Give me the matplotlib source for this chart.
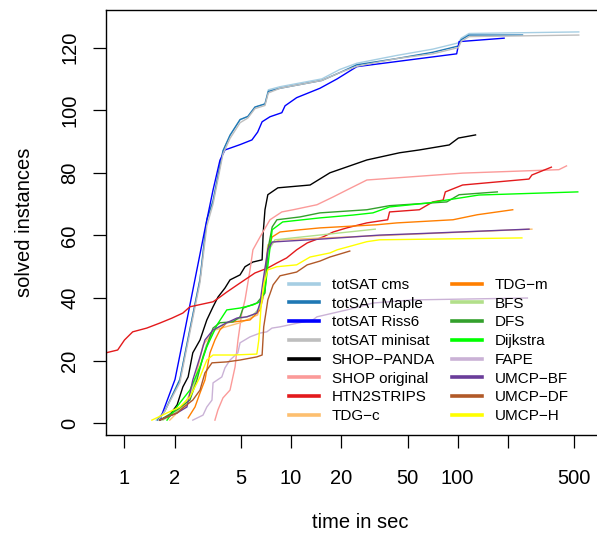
import matplotlib
matplotlib.use("Agg")
import matplotlib.pyplot as plt

plt.rcParams["font.family"] = ["Liberation Sans", "DejaVu Sans"]

# (time in sec, solved instances)
cms_t = [1.55, 1.75, 2.15, 2.47, 2.84, 3.12, 3.40, 3.90, 4.30, 4.94, 5.5, 6.07, 6.97, 7.3, 8.58, 15.3, 19.6, 24.8, 43.2, 70.9, 101, 105, 117, 533]
cms_n = [1, 4, 14, 30, 46, 65, 71, 87, 92, 97, 98, 101, 102, 106.5, 107.5, 110, 113, 115, 117.5, 119.5, 121.5, 123, 124.5, 125]
maple_t = [1.58, 1.75, 2.15, 2.47, 2.84, 3.12, 3.40, 3.90, 4.30, 4.94, 5.5, 6.07, 6.97, 7.3, 8.58, 15.3, 19.6, 24.8, 43.2, 70.9, 101, 105, 117, 245]
maple_n = [1, 4, 14, 30, 46, 65, 71, 87, 92, 97, 98, 101, 102, 106, 107, 109.5, 112, 114.5, 116.5, 118.5, 120.5, 122.5, 124, 124]
riss6_t = [1.63, 2.01, 2.31, 2.65, 3.04, 3.40, 3.74, 4.01, 4.94, 5.82, 6.3, 6.7, 7.47, 8.8, 9.2, 10.8, 14.9, 18.9, 24.8, 98.6, 102, 190]
riss6_n = [1, 14, 30, 46, 62, 74.5, 84, 87.3, 89, 90.5, 93, 96.3, 97.9, 99.2, 101.4, 104, 107, 110, 113.9, 118, 121.9, 123]
minisat_t = [1.6, 1.75, 2.15, 2.47, 2.84, 3.12, 3.40, 3.90, 4.30, 4.94, 5.5, 6.07, 6.97, 7.3, 8.58, 15.3, 19.6, 24.8, 43.2, 70.9, 101, 105, 117, 533]
minisat_n = [1, 4, 13, 29, 45, 63, 70, 86, 91, 96, 97.5, 100.5, 101.5, 105.5, 107, 109.5, 112, 114, 116.5, 118, 120, 122, 123.5, 124]
panda_t = [1.63, 1.87, 2.07, 2.24, 2.41, 2.57, 2.84, 3.12, 3.40, 3.64, 4.01, 4.30, 4.94, 5.29, 5.9, 6.7, 6.8, 6.97, 7.25, 8.33, 13.0, 17.1, 28.5, 44.8, 58.9, 89, 101, 128]
panda_n = [1, 2.6, 5.9, 11.6, 14.8, 22.5, 26.6, 33, 37.2, 40.3, 43.2, 45.8, 47.4, 50, 51.5, 52.2, 60.8, 68.2, 73, 75.2, 76.1, 80, 84.1, 86.4, 87.3, 88.9, 91.1, 92.1]
shop_t = [3.49, 3.64, 3.9, 4.3, 4.61, 4.8, 5.06, 5.29, 5.67, 5.9, 6.51, 7.47, 8.8, 10.3, 14.3, 17.9, 21.6, 28.5, 107, 405, 450]
shop_n = [1, 4.3, 8.1, 10.6, 18, 26.6, 35.2, 39.4, 49, 55.4, 59.5, 65, 67.5, 68.2, 69.8, 72.3, 74.5, 77.7, 79.9, 81, 82.2]
htn_t = [0.774, 0.91, 1.0, 1.12, 1.36, 1.63, 1.93, 2.24, 2.47, 3.40, 3.74, 4.11, 4.94, 6.07, 7.25, 8.22, 9.4, 10.8, 12.5, 15.5, 17.9, 21.6, 28.5, 38, 39, 58.9, 70.9, 81.8, 84.3, 107, 268, 279, 365]
htn_n = [22.5, 23.4, 26.6, 29.2, 30.4, 32, 33.6, 35.2, 37.2, 38.8, 40.3, 41.9, 44.8, 48, 49.6, 51.2, 52.8, 55.4, 57.6, 59.5, 61.1, 62.4, 64, 65, 67.5, 68.2, 70.7, 71.3, 73.9, 76.1, 78, 79.3, 81.8]
tdgc_t = [1.87, 2.31, 2.65, 2.96, 3.49, 4.94, 6.3, 6.8, 7.25, 8.58, 44.8, 279]
tdgc_n = [1, 5.9, 13.8, 25, 29.8, 32.1, 34.6, 42.6, 57, 58.6, 60.2, 62]
tdgm_t = [2.41, 2.65, 2.84, 3.04, 3.26, 3.49, 3.74, 4.11, 5.67, 6.51, 6.97, 7.25, 7.7, 8.58, 11.3, 14.9, 32.6, 43.2, 93.7, 131, 214]
tdgm_n = [1.7, 5.2, 9.7, 13.8, 22.5, 26.6, 29.8, 32.1, 33, 36.2, 42.6, 55.4, 59.5, 61.1, 61.8, 62.4, 63.4, 64, 65, 66.6, 68.2]
bfs_t = [1.7, 2.1, 2.5, 2.8, 3.1, 3.5, 4.1, 4.94, 5.9, 6.5, 6.9, 7.3, 8.0, 32]
bfs_n = [1, 4, 9, 17, 25, 30, 32, 33.5, 34.5, 37, 42, 55, 58.6, 62]
dfs_t = [1.63, 2.07, 2.47, 2.72, 2.96, 3.40, 3.74, 4.48, 4.94, 5.15, 6.23, 6.97, 7.25, 7.7, 8.22, 11.3, 14.9, 28.5, 39, 86, 102, 173]
dfs_n = [1, 4.3, 7.4, 13.8, 21.2, 30.4, 32.1, 32.4, 34, 36.8, 38.4, 41.6, 55.4, 62.7, 65, 65.9, 67.2, 68.2, 69.5, 70.7, 73, 73.9]
dijk_t = [1.8, 2.15, 2.47, 2.84, 3.12, 3.59, 4.11, 4.94, 5.9, 6.51, 6.97, 7.7, 8.9, 14.9, 23.5, 31, 39, 67.6, 86, 134, 526]
dijk_n = [1, 6.5, 10.6, 18, 24.4, 31.4, 36.2, 36.8, 37.8, 38.8, 42.6, 61.8, 64.3, 65.6, 66.5, 67.2, 69.1, 70.4, 71.3, 72.9, 73.9]
fape_t = [2.57, 2.96, 3.12, 3.35, 3.40, 3.84, 4.01, 4.30, 4.79, 4.94, 5.67, 6.51, 7.15, 7.68, 8.58, 13.5, 14.3, 21.6, 31, 53.7, 262]
fape_n = [1, 2.6, 5.2, 7.4, 12.9, 14.8, 17.7, 20.2, 22.5, 25.7, 27.6, 28.8, 29.2, 30.4, 30.8, 33, 34, 36.2, 38.4, 39.4, 40]
umbf_t = [1.63, 2.07, 2.37, 2.57, 2.84, 3.04, 3.40, 4.11, 4.73, 5.43, 6.23, 6.51, 6.8, 7.25, 7.7, 14.9, 34, 67.6, 268]
umbf_n = [1, 3.3, 5.2, 13.8, 21.2, 26.6, 29.8, 32.1, 33.6, 34, 35.2, 38.4, 45.8, 55.4, 57.9, 58.8, 60.1, 60.7, 62]
umdf_t = [1.63, 1.8, 2.07, 2.24, 2.57, 2.84, 3.04, 3.35, 4.11, 4.94, 6.23, 6.7, 6.85, 7.15, 7.25, 7.8, 8.58, 10.8, 12.5, 14.9, 17.1, 22.5]
umdf_n = [1, 2, 3.3, 4.9, 7.4, 10.6, 16.1, 19.3, 19.6, 20.2, 21.2, 21.8, 30.8, 37.2, 39.4, 44.2, 47.1, 48.3, 50.6, 51.8, 53.1, 55]
umh_t = [1.46, 1.8, 2.15, 2.47, 2.84, 3.12, 3.40, 4.48, 6.23, 6.4, 6.6, 6.85, 7.25, 8.22, 10.8, 13, 17.1, 18.9, 28.5, 34, 243]
umh_n = [1, 3.3, 5.2, 8.4, 14.8, 20.2, 21.8, 21.8, 22.1, 26.6, 37.2, 44.2, 49, 50, 50.6, 53.1, 54.4, 55.4, 58, 58.6, 59.2]

labels = ["totSAT cms", "totSAT Maple", "totSAT Riss6", "totSAT minisat",
          "SHOP\u2212PANDA", "SHOP original", "HTN2STRIPS", "TDG\u2212c",
          "TDG\u2212m", "BFS", "DFS", "Dijkstra",
          "FAPE", "UMCP\u2212BF", "UMCP\u2212DF", "UMCP\u2212H"]
colors = ["#A6CEE3", "#1F78B4", "#0000FF", "#BEBEBE",
          "#000000", "#FB9A99", "#E31A1C", "#FDBF6F",
          "#FF7F00", "#B2DF8A", "#33A02C", "#00FF00",
          "#CAB2D6", "#6A3D9A", "#B15928", "#FFFF00"]
series = [(cms_t, cms_n), (maple_t, maple_n), (riss6_t, riss6_n), (minisat_t, minisat_n),
          (panda_t, panda_n), (shop_t, shop_n), (htn_t, htn_n), (tdgc_t, tdgc_n),
          (tdgm_t, tdgm_n), (bfs_t, bfs_n), (dfs_t, dfs_n), (dijk_t, dijk_n),
          (fape_t, fape_n), (umbf_t, umbf_n), (umdf_t, umdf_n), (umh_t, umh_n)]

fig = plt.figure(figsize=(5.97, 5.33), dpi=100)
ax = fig.add_axes([106/597, 98/533, 509/597, 425/533])

for (t, n), c, lab in zip(series, colors, labels):
    ax.plot(t, n, color=c, lw=1.0, label=lab)

ax.set_xscale("log")
ax.set_xlim(0.7744, 879.7)
ax.set_ylim(-3.75, 132.0)
xt = [1, 2, 5, 10, 20, 50, 100, 200, 500]
ax.set_xticks(xt)
ax.set_xticklabels(["1", "2", "5", "10", "20", "50", "100", "", "500"])
ax.minorticks_off()
ax.set_yticks([0, 20, 40, 60, 80, 100, 120])
ax.tick_params(axis="both", direction="out", length=9.3, width=0.9, labelsize=14.5)
ax.tick_params(axis="x", pad=15.5)
ax.tick_params(axis="y", pad=10)
for lab in ax.get_yticklabels():
    lab.set_rotation(90)
    lab.set_va("center")
for s in ax.spines.values():
    s.set_linewidth(1.0)

ax.set_xlabel("time in sec", fontsize=14.5, labelpad=18)
ax.set_ylabel("solved instances", fontsize=14.5, labelpad=19)

leg = ax.legend(ncol=2, loc="upper left", bbox_to_anchor=((289-106)/509, (533-278-98)/425),
                frameon=False, fontsize=11, handlelength=1.95, handletextpad=0.85,
                columnspacing=1.1, labelspacing=0.31, borderpad=0, borderaxespad=0)
for h in leg.get_lines():
    h.set_linewidth(2.6)

fig.savefig("out.png", dpi=100)
